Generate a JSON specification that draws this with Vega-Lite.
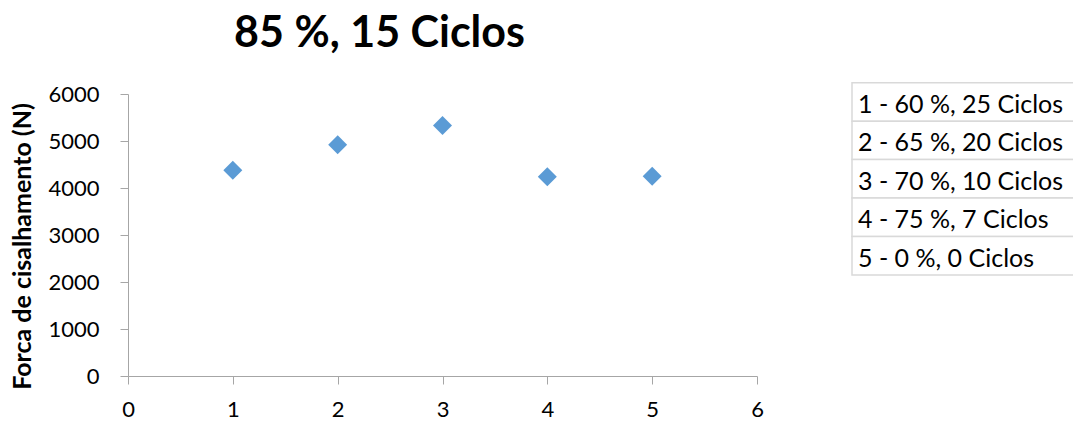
{
  "$schema": "https://vega.github.io/schema/vega-lite/v6.json",
  "padding": {"left": 9, "top": 13, "right": 0, "bottom": 0},
  "bounds": "flush",
  "spacing": 95,
  "background": "#ffffff",
  "config": {
    "view": {"stroke": null},
    "font": "Lato",
    "axis": {
      "domainColor": "#a6a6a6",
      "domainWidth": 1,
      "tickColor": "#a6a6a6",
      "tickWidth": 1,
      "tickSize": 8,
      "grid": false,
      "labelFont": "Lato",
      "labelFontSize": 22,
      "labelColor": "#000000",
      "labelFlush": false,
      "labelOverlap": false,
      "format": "d"
    }
  },
  "hconcat": [
    {
      "width": 629,
      "height": 282,
      "title": {
        "text": "85 %, 15 Ciclos",
        "font": "Lato",
        "fontSize": 43,
        "fontWeight": "bold",
        "color": "#000000",
        "anchor": "middle",
        "baseline": "alphabetic",
        "dx": -63,
        "offset": -7
      },
      "data": {
        "values": [
          {"ensaio": 1, "forca": 4380},
          {"ensaio": 2, "forca": 4920},
          {"ensaio": 3, "forca": 5330},
          {"ensaio": 4, "forca": 4240},
          {"ensaio": 5, "forca": 4250}
        ]
      },
      "mark": {
        "type": "point",
        "shape": "diamond",
        "filled": true,
        "size": 360,
        "color": "#5B9BD5",
        "opacity": 1
      },
      "encoding": {
        "x": {
          "field": "ensaio",
          "type": "quantitative",
          "scale": {"domain": [0, 6], "nice": false, "zero": false},
          "axis": {
            "values": [0, 1, 2, 3, 4, 5, 6],
            "title": null,
            "labelPadding": 15
          }
        },
        "y": {
          "field": "forca",
          "type": "quantitative",
          "scale": {"domain": [0, 6000], "nice": false},
          "axis": {
            "values": [0, 1000, 2000, 3000, 4000, 5000, 6000],
            "title": "Forca de cisalhamento (N)",
            "titleFont": "Lato",
            "titleFontSize": 25,
            "titleFontWeight": "bold",
            "titleColor": "#000000",
            "titleX": -93,
            "titleY": 152,
            "titleAlign": "center",
            "titleBaseline": "bottom",
            "labelPadding": 21
          }
        }
      }
    },
    {
      "width": 222,
      "height": 282,
      "data": {
        "values": [
          {"n": 1, "label": "1 - 60 %, 25 Ciclos"},
          {"n": 2, "label": "2 - 65 %, 20 Ciclos"},
          {"n": 3, "label": "3 - 70 %, 10 Ciclos"},
          {"n": 4, "label": "4 - 75 %, 7 Ciclos"},
          {"n": 5, "label": "5 - 0 %, 0 Ciclos"}
        ]
      },
      "layer": [
        {
          "mark": {"type": "rect", "fill": "#ffffff", "stroke": "#d9d9d9", "strokeWidth": 1.5},
          "encoding": {
            "y": {
              "field": "n",
              "type": "ordinal",
              "scale": {"range": [-11.3, 181], "paddingInner": 0, "paddingOuter": 0},
              "axis": null
            },
            "x": {"datum": 0, "type": "quantitative", "scale": {"domain": [0, 1], "nice": false}, "axis": null},
            "x2": {"datum": 1}
          }
        },
        {
          "mark": {
            "type": "text",
            "align": "left",
            "baseline": "middle",
            "dx": 6,
            "dy": 3,
            "font": "Lato",
            "fontSize": 25,
            "color": "#000000"
          },
          "encoding": {
            "y": {"field": "n", "type": "ordinal"},
            "x": {"datum": 0, "type": "quantitative"},
            "text": {"field": "label"}
          }
        }
      ]
    }
  ]
}
